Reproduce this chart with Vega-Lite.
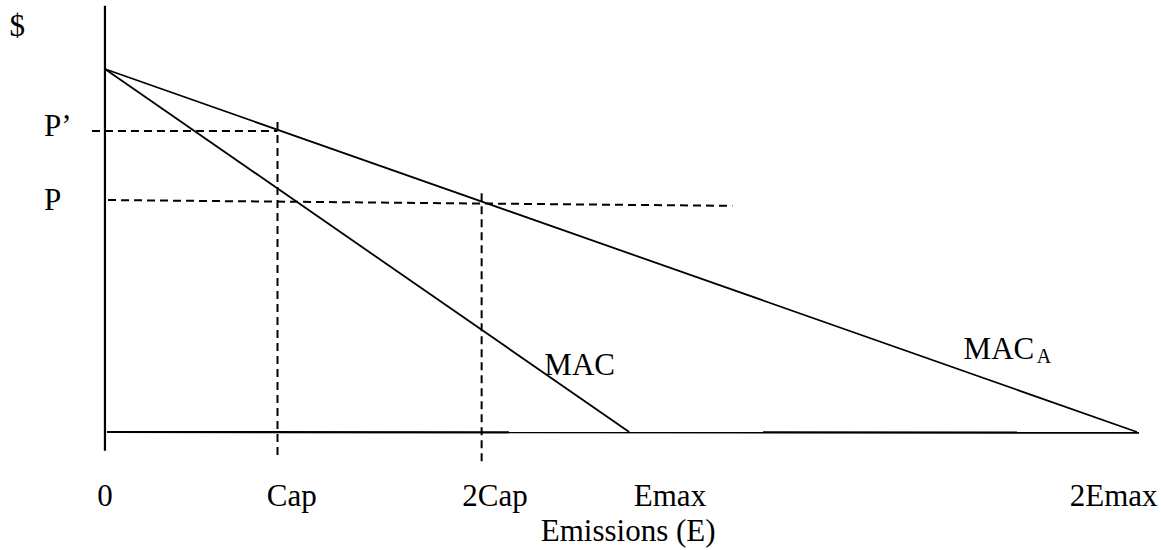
{
  "$schema": "https://vega.github.io/schema/vega-lite/v6.json",
  "width": 1161,
  "height": 550,
  "padding": 0,
  "autosize": {"type": "fit", "contains": "padding"},
  "background": "white",
  "config": {"view": {"stroke": null}},
  "datasets": {
    "axes": [
      {"seg": "vertical", "e": 0, "p": 117.4},
      {"seg": "vertical", "e": 0, "p": -5.2},
      {"seg": "horizontal", "e": 0.2, "p": 0},
      {"seg": "horizontal", "e": 100.2, "p": -0.2}
    ],
    "curves": [
      {"curve": "MAC", "e": 0, "p": 100},
      {"curve": "MAC", "e": 50.8, "p": 0},
      {"curve": "MAC_A", "e": 0, "p": 100},
      {"curve": "MAC_A", "e": 100, "p": 0}
    ],
    "guides": [
      {"guide": "P'", "e": -1.26, "p": 82.9},
      {"guide": "P'", "e": 16.72, "p": 82.9},
      {"guide": "Cap", "e": 16.72, "p": 85.4},
      {"guide": "Cap", "e": 16.72, "p": -7.4},
      {"guide": "P", "e": 0.3, "p": 63.9},
      {"guide": "P", "e": 60.8, "p": 62.3},
      {"guide": "2Cap", "e": 36.5, "p": 65.8},
      {"guide": "2Cap", "e": 36.5, "p": -8.8}
    ],
    "labelsCenter": [
      {"label": "0", "e": 0, "p": -20.4},
      {"label": "Cap", "e": 18.1, "p": -20.4},
      {"label": "2Cap", "e": 37.8, "p": -20.4},
      {"label": "Emax", "e": 54.75, "p": -20.4},
      {"label": "Emissions (E)", "e": 50.7, "p": -30.0},
      {"label": "MAC", "e": 46.0, "p": 15.7},
      {"label": "$", "e": -8.5, "p": 109.1}
    ],
    "labelsLeft": [
      {"label": "P’", "e": -5.9, "p": 81.5},
      {"label": "P", "e": -5.9, "p": 61.2},
      {"label": "MAC", "e": 83.2, "p": 20.1}
    ],
    "labelsRight": [
      {"label": "2Emax", "e": 102.0, "p": -20.4}
    ],
    "subscripts": [
      {"label": "A", "e": 90.3, "p": 19.0}
    ]
  },
  "layer": [
    {
      "data": {"name": "axes"},
      "mark": {"type": "line", "color": "black", "strokeWidth": 2.2, "strokeCap": "butt", "clip": false},
      "encoding": {
        "x": {"field": "e", "type": "quantitative", "scale": {"domain": [-10.17, 102.33], "nice": false, "zero": false}, "axis": null},
        "y": {"field": "p", "type": "quantitative", "scale": {"domain": [-32.51, 119.01], "nice": false, "zero": false}, "axis": null},
        "detail": {"field": "seg"}
      }
    },
    {
      "data": {"name": "curves"},
      "mark": {"type": "line", "color": "black", "strokeWidth": 1.8, "clip": false},
      "encoding": {
        "x": {"field": "e", "type": "quantitative", "scale": {"domain": [-10.17, 102.33], "nice": false, "zero": false}, "axis": null},
        "y": {"field": "p", "type": "quantitative", "scale": {"domain": [-32.51, 119.01], "nice": false, "zero": false}, "axis": null},
        "detail": {"field": "curve"}
      }
    },
    {
      "data": {"name": "guides"},
      "mark": {"type": "line", "color": "black", "strokeWidth": 2, "strokeDash": [8, 5], "strokeCap": "butt", "clip": false},
      "encoding": {
        "x": {"field": "e", "type": "quantitative", "scale": {"domain": [-10.17, 102.33], "nice": false, "zero": false}, "axis": null},
        "y": {"field": "p", "type": "quantitative", "scale": {"domain": [-32.51, 119.01], "nice": false, "zero": false}, "axis": null},
        "detail": {"field": "guide"}
      }
    },
    {
      "data": {"name": "labelsCenter"},
      "mark": {"type": "text", "font": "Liberation Serif", "fontSize": 31, "color": "black", "align": "center", "baseline": "alphabetic", "clip": false},
      "encoding": {
        "x": {"field": "e", "type": "quantitative", "scale": {"domain": [-10.17, 102.33], "nice": false, "zero": false}, "axis": null},
        "y": {"field": "p", "type": "quantitative", "scale": {"domain": [-32.51, 119.01], "nice": false, "zero": false}, "axis": null},
        "text": {"field": "label"}
      }
    },
    {
      "data": {"name": "labelsLeft"},
      "mark": {"type": "text", "font": "Liberation Serif", "fontSize": 31, "color": "black", "align": "left", "baseline": "alphabetic", "clip": false},
      "encoding": {
        "x": {"field": "e", "type": "quantitative", "scale": {"domain": [-10.17, 102.33], "nice": false, "zero": false}, "axis": null},
        "y": {"field": "p", "type": "quantitative", "scale": {"domain": [-32.51, 119.01], "nice": false, "zero": false}, "axis": null},
        "text": {"field": "label"}
      }
    },
    {
      "data": {"name": "labelsRight"},
      "mark": {"type": "text", "font": "Liberation Serif", "fontSize": 31, "color": "black", "align": "right", "baseline": "alphabetic", "clip": false},
      "encoding": {
        "x": {"field": "e", "type": "quantitative", "scale": {"domain": [-10.17, 102.33], "nice": false, "zero": false}, "axis": null},
        "y": {"field": "p", "type": "quantitative", "scale": {"domain": [-32.51, 119.01], "nice": false, "zero": false}, "axis": null},
        "text": {"field": "label"}
      }
    },
    {
      "data": {"name": "subscripts"},
      "mark": {"type": "text", "font": "Liberation Serif", "fontSize": 20, "color": "black", "align": "left", "baseline": "alphabetic", "clip": false},
      "encoding": {
        "x": {"field": "e", "type": "quantitative", "scale": {"domain": [-10.17, 102.33], "nice": false, "zero": false}, "axis": null},
        "y": {"field": "p", "type": "quantitative", "scale": {"domain": [-32.51, 119.01], "nice": false, "zero": false}, "axis": null},
        "text": {"field": "label"}
      }
    }
  ]
}
